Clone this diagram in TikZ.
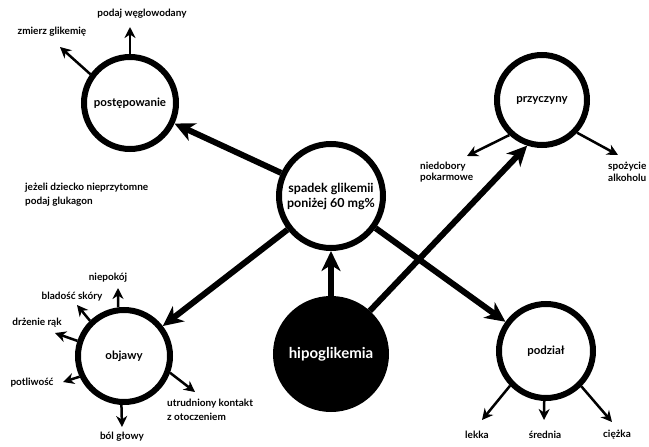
\documentclass[tikz,border=0pt]{standalone}
\usepackage{fontspec}
\setmainfont{Lato}
\usetikzlibrary{arrows.meta}

\tikzstyle{topic} = [circle, draw=black, line width=6pt, fill=white, align=center, inner sep=0pt, font=\fontsize{11.5}{15}\selectfont\bfseries]
\tikzstyle{root} = [circle, draw=black, fill=black, line width=6pt, text=white, inner sep=0pt, font=\fontsize{15}{16}\selectfont\bfseries]
\tikzstyle{leaf} = [align=left, inner sep=0pt, font=\fontsize{10}{14}\selectfont\bfseries]
\tikzstyle{bigarrow} = [line width=6pt, -{Stealth[length=20pt,width=19pt,inset=6pt]}]
\tikzstyle{smallarrow} = [line width=2.5pt, -{Stealth[length=11pt,width=11pt,inset=3.5pt]}]

\begin{document}
\begin{tikzpicture}[x=1pt, y=-1pt]
    \useasboundingbox (0,0) rectangle (649,447);

    \node (postepowanie) [topic, minimum size=92pt] at (130,103) {postępowanie};
    \node (przyczyny) [topic, minimum size=90pt] at (542,100) {przyczyny};
    \node (spadek) [topic, minimum size=104pt, font=\fontsize{12.5}{15}\selectfont\bfseries] at (331,196) {spadek glikemii\\poniżej 60 mg\%};
    \node (objawy) [topic, minimum size=92pt] at (124,356) {objawy};
    \node (hipo) [root, minimum size=110pt] at (331,354) {hipoglikemia};
    \node (podzial) [topic, minimum size=94pt] at (546,351) {podział};

    \node (podaj) [leaf] at (142,14) {podaj węglowodany};
    \node (zmierz) [leaf] at (52,32) {zmierz glikemię};
    \node (glukagon) [leaf, anchor=west] at (25,195) {jeżeli dziecko nieprzytomne\\podaj glukagon};
    \node (niedobory) [leaf, anchor=west, font=\fontsize{10}{11.5}\selectfont\bfseries] at (420,172) {niedobory\\pokarmowe};
    \node (spozycie) [leaf, anchor=west, font=\fontsize{10}{11.5}\selectfont\bfseries] at (608,172) {spożycie\\alkoholu};
    \node (niepokoj) [leaf] at (108,278) {niepokój};
    \node (bladosc) [leaf] at (72,297) {bladość skóry};
    \node (drzenie) [leaf] at (37,323) {drżenie rąk};
    \node (potliwosc) [leaf] at (32,383) {potliwość};
    \node (kontakt) [leaf, anchor=west] at (167,410) {utrudniony kontakt\\z otoczeniem};
    \node (bol) [leaf] at (122,437) {ból głowy};
    \node (lekka) [leaf] at (477,435) {lekka};
    \node (srednia) [leaf] at (545,435) {średnia};
    \node (ciezka) [leaf] at (617,435) {ciężka};

    \coordinate (tPodaj) at (130,27);
    \coordinate (tZmierz) at (60,47);
    \coordinate (tNiedobory) at (467,156);
    \coordinate (tSpozycie) at (618,155);
    \coordinate (tNiepokoj) at (118,288);
    \coordinate (tBladosc) at (77,305);
    \coordinate (tDrzenie) at (55,333);
    \coordinate (tPotliwosc) at (63,382);
    \coordinate (tKontakt) at (195,392);
    \coordinate (tBol) at (122,427);
    \coordinate (tLekka) at (482,420);
    \coordinate (tSrednia) at (544,420);
    \coordinate (tCiezka) at (612,422);

    \draw [bigarrow] (spadek) -- (postepowanie);
    \draw [bigarrow] (spadek) -- (objawy);
    \draw [bigarrow] (spadek) -- (podzial);
    \draw [bigarrow] (hipo) -- (spadek);
    \draw [bigarrow] (hipo.48) -- (przyczyny.252);

    \draw [smallarrow] (postepowanie.90) -- (tPodaj);
    \draw [smallarrow] (postepowanie.144) -- (tZmierz);
    \draw [smallarrow] (przyczyny.227) -- (tNiedobory);
    \draw [smallarrow] (przyczyny.317) -- (tSpozycie);
    \draw [smallarrow] (objawy.97) -- (tNiepokoj);
    \draw [smallarrow] (objawy.134) -- (tBladosc);
    \draw [smallarrow] (objawy.162) -- (tDrzenie);
    \draw [smallarrow] (objawy.205) -- (tPotliwosc);
    \draw [smallarrow] (objawy.340) -- (tKontakt);
    \draw [smallarrow] (objawy.267) -- (tBol);
    \draw [smallarrow] (podzial.224) -- (tLekka);
    \draw [smallarrow] (podzial.268) -- (tSrednia);
    \draw [smallarrow] (podzial.315) -- (tCiezka);
\end{tikzpicture}
\end{document}
